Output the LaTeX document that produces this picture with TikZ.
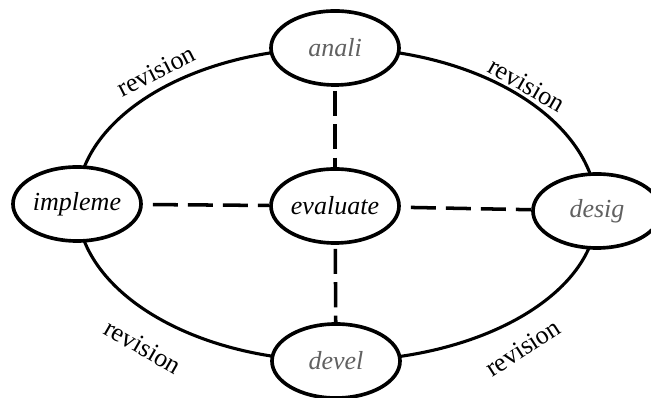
\documentclass[tikz,border=0pt]{standalone}
\usepackage{fontspec}
\setmainfont{Liberation Serif}
\usetikzlibrary{shapes.geometric}
\pgfdeclarelayer{background}
\pgfsetlayers{background,main}
\definecolor{txtgray}{HTML}{616161}
\begin{document}
\begin{tikzpicture}[x=0.025cm,y=0.025cm,
  stage/.style={ellipse,draw,line width=2.6pt,fill=white,minimum width=3.2cm,minimum height=1.85cm,inner sep=0pt,font=\fontsize{18.5}{21}\selectfont\itshape},
  grey/.style={text=txtgray},
  arcline/.style={line width=2.2pt},
  link/.style={line width=2.5pt,dash pattern=on 17.8pt off 7.1pt,dash phase=17.8pt},
  vlink/.style={line width=2.5pt,dash pattern=on 17.8pt off 6pt,dash phase=21pt},
  rev/.style={font=\fontsize{18.5}{21}\selectfont,inner sep=0pt}]
\useasboundingbox (0,0) rectangle (651,398);
\clip (0,0) rectangle (651,398);
\node[stage,grey] (anali) at (335,350) {anali};
\node[stage] (evaluate) at (335,192) {evaluate};
\node[stage] (impleme) at (77,194) {impleme};
\node[stage,grey] (desig) at (597,187) {desig};
\node[stage,grey] (devel) at (336,37) {devel};
\begin{pgfonlayer}{background}
\draw[arcline] (anali.center) to[out=180,in=90,out looseness=1.207,in looseness=0.73] (impleme.center);
\draw[arcline] (anali.center) to[out=0,in=90,out looseness=1.198,in looseness=0.745] (desig.center);
\draw[arcline] (impleme.center) to[out=-90,in=180,out looseness=0.731,in looseness=1.206] (devel.center);
\draw[arcline] (devel.center) to[out=0,in=-90,out looseness=1.223,in looseness=0.703] (desig.center);
\end{pgfonlayer}
\draw[vlink] (anali) -- (evaluate);
\draw[link] (impleme) -- (evaluate);
\draw[link] (evaluate) -- (desig);
\draw[vlink] (evaluate) -- (devel);
\node[rev,rotate=27] (r1) at (156,327) {revision};
\node[rev,rotate=-30] (r2) at (527,313) {revision};
\node[rev,rotate=-30] (r3) at (143,51) {revision};
\node[rev,rotate=33] (r4) at (523,50) {revision};
\end{tikzpicture}
\end{document}
